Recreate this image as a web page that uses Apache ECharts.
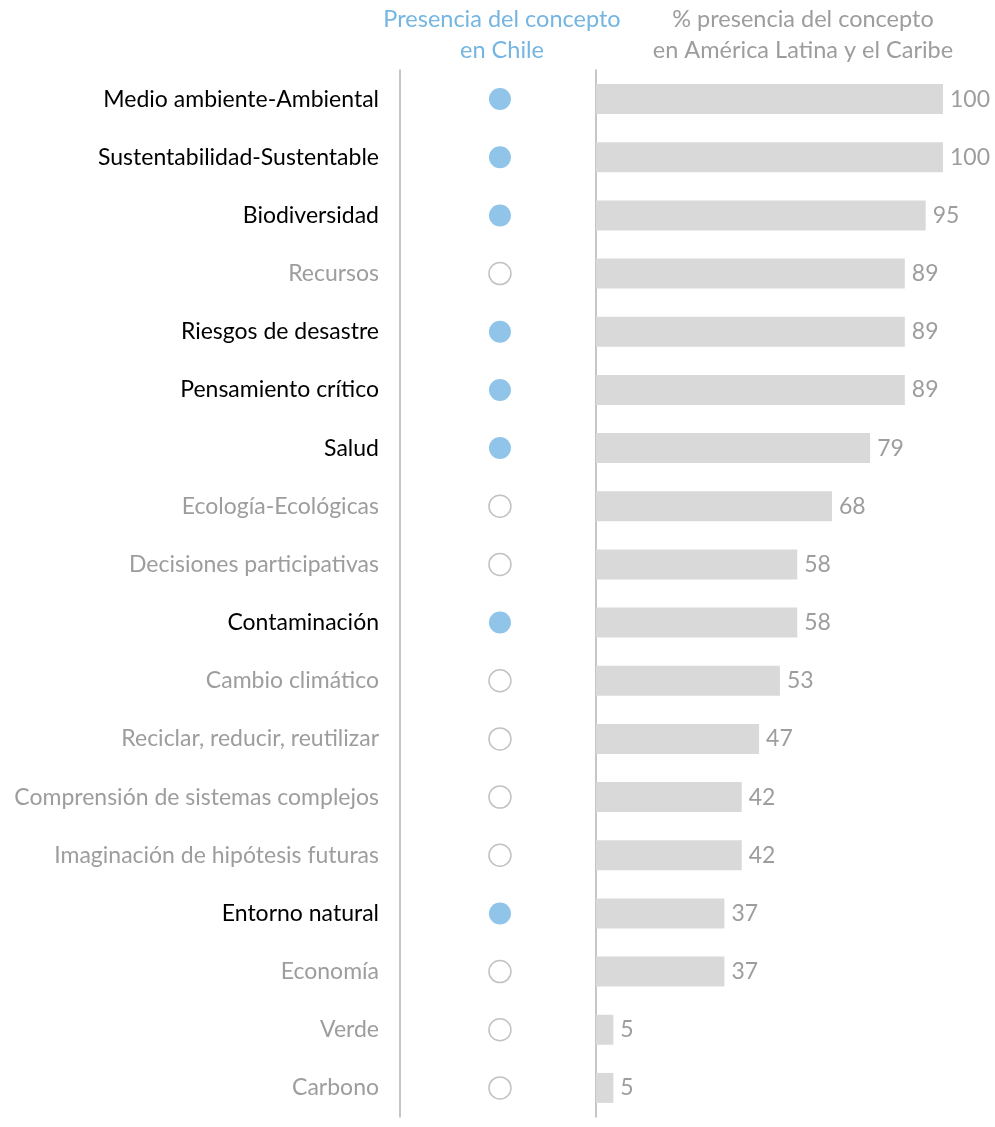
<!DOCTYPE html>
<html>
<head>
<meta charset="utf-8">
<title>Conceptos</title>
<script src="https://cdn.jsdelivr.net/npm/echarts@6/dist/echarts.min.js"></script>
<style>
  html, body { margin: 0; padding: 0; background: #fff; }
  #main { width: 995px; height: 1127px; }
</style>
</head>
<body>
<div id="main"></div>
<script>
var conceptos = ['Medio ambiente-Ambiental', 'Sustentabilidad-Sustentable', 'Biodiversidad', 'Recursos',
  'Riesgos de desastre', 'Pensamiento crítico', 'Salud', 'Ecología-Ecológicas', 'Decisiones participativas',
  'Contaminación', 'Cambio climático', 'Reciclar, reducir, reutilizar', 'Comprensión de sistemas complejos',
  'Imaginación de hipótesis futuras', 'Entorno natural', 'Economía', 'Verde', 'Carbono'];
var presenciaALC = [100, 100, 95, 89, 89, 89, 79, 68, 58, 58, 53, 47, 42, 42, 37, 37, 5, 5];
var enChile = [1, 1, 1, 0, 1, 1, 1, 0, 0, 1, 0, 0, 0, 0, 1, 0, 0, 0];

var azul = '#74b5e2';
var gris = '#9d9d9d';
var fuente = 'Lato';

var chart = echarts.init(document.getElementById('main'));

var option = {
  animation: false,
  textStyle: { fontFamily: fuente },
  title: [{
    text: 'Presencia del concepto\nen Chile',
    left: 497, top: -1, textAlign: 'center',
    textStyle: { color: azul, fontSize: 23.5, fontWeight: 'normal', lineHeight: 31, fontFamily: fuente }
  }, {
    text: '% presencia del concepto\nen América Latina y el Caribe',
    left: 798, top: -1, textAlign: 'center',
    textStyle: { color: gris, fontSize: 23.5, fontWeight: 'normal', lineHeight: 31, fontFamily: fuente }
  }],
  grid: [
    { left: 400, width: 196, top: 70, bottom: 10 },
    { left: 596, right: 52, top: 70, bottom: 10 }
  ],
  xAxis: [
    { gridIndex: 0, type: 'value', min: 0, max: 1, show: false },
    { gridIndex: 1, type: 'value', min: 0, max: 100, show: false }
  ],
  yAxis: [{
    gridIndex: 0, type: 'category', data: conceptos, inverse: true,
    axisLine: { lineStyle: { color: '#b3b3b3', width: 1.5 } },
    axisTick: { show: false },
    splitLine: { show: false },
    axisLabel: {
      margin: 21, fontSize: 23, fontFamily: fuente,
      formatter: function (v, i) { return enChile[i] ? '{si|' + v + '}' : '{no|' + v + '}'; },
      rich: {
        si: { color: '#000', fontSize: 23, fontFamily: fuente },
        no: { color: gris, fontSize: 23, fontFamily: fuente }
      }
    }
  }, {
    gridIndex: 1, type: 'category', data: conceptos, inverse: true,
    axisLine: { lineStyle: { color: '#b3b3b3', width: 1.5 } },
    axisTick: { show: false },
    axisLabel: { show: false }
  }],
  series: [{
    type: 'scatter',
    xAxisIndex: 0, yAxisIndex: 0,
    symbolSize: 22,
    data: conceptos.map(function (c, i) {
      return {
        value: [0.51, i],
        itemStyle: enChile[i]
          ? { color: azul, borderWidth: 0 }
          : { color: '#fff', borderColor: '#b3b3b3', borderWidth: 1.5 }
      };
    })
  }, {
    type: 'bar',
    xAxisIndex: 1, yAxisIndex: 1,
    barWidth: 30,
    itemStyle: { color: '#d9d9d9' },
    label: {
      show: true, position: 'right', distance: 7,
      color: gris, fontSize: 23, fontFamily: fuente
    },
    data: presenciaALC
  }]
};

chart.setOption(option);
</script>
</body>
</html>
